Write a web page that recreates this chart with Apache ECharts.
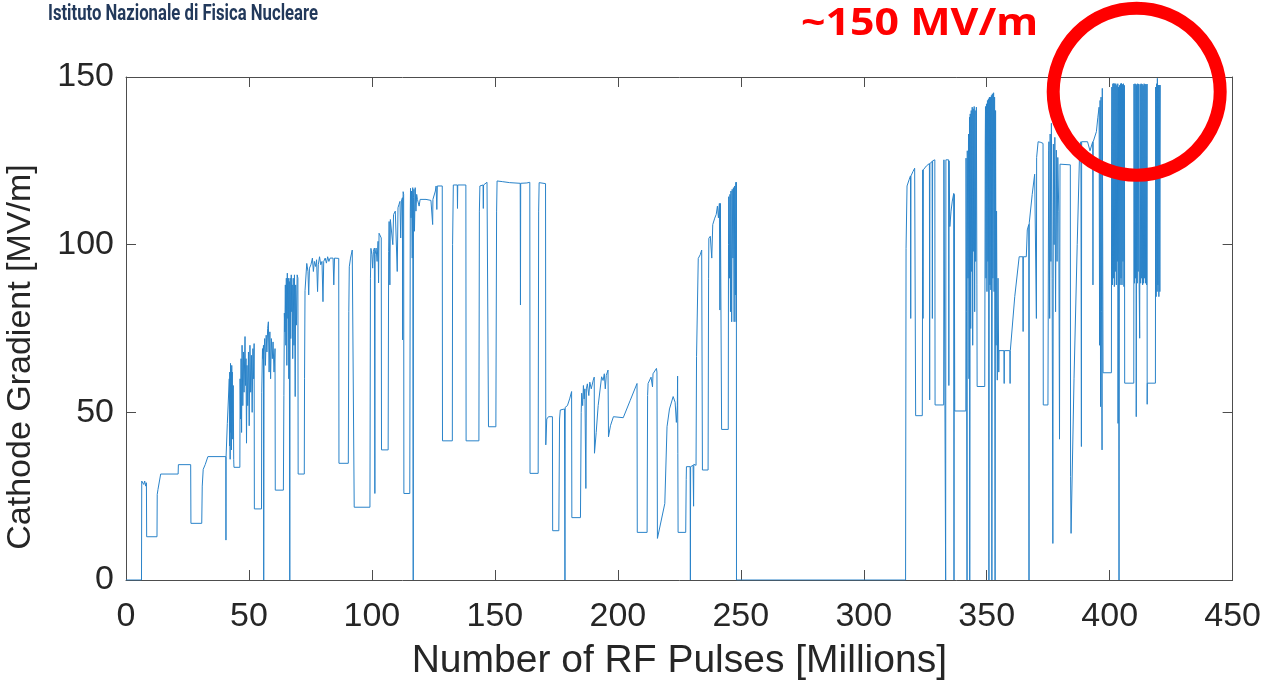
<!DOCTYPE html>
<html><head><meta charset="utf-8">
<script src="https://cdn.jsdelivr.net/npm/echarts@6/dist/echarts.min.js"></script>
<style>html,body{margin:0;padding:0;background:#fff;}#chart{width:1264px;height:689px;}</style>
</head><body><div id="chart"></div>
<script>
// [pulses (millions), cathode gradient (MV/m)]
const rampA = [[0,0],[6.3,0],[6.4,29.5],[6.8,30],[7.2,28.5],[7.6,29.5],[8.0,28],[8.3,29],[8.4,12.9],[12.6,12.9],[12.7,25.5],[13.0,27],[13.4,26.5],[14.1,31.6],[21.2,31.6],[21.3,34.4],[26.3,34.4],[26.4,16.9],[30.8,16.9],[31.0,28],[31.4,33],[32.2,34.4],[33.3,36.8],[40.6,36.8],[40.65,11.9],[40.7,36.8],[41.2,46.7],[41.9,46.7]];
const rampB = [[42.0,60],[42.1,40],[42.2,62],[42.35,36],[42.5,64.6],[42.6,44],[42.75,63],[42.9,38.8],[43.0,64],[43.1,50],[43.2,62],[43.4,42],[43.6,58],[43.8,36],[43.9,33.6],[46.3,33.6],[46.4,60],[46.6,48],[46.8,66],[47.0,44],[47.2,70],[47.5,52],[47.8,68],[48.0,56],[48.4,72.6],[48.6,58],[48.8,66],[49.0,40.8],[49.2,64],[49.5,52],[49.8,68],[50.1,46],[50.4,70],[50.7,56],[51.0,67],[51.3,50],[51.6,69],[51.9,60],[52.1,70.5],[52.2,21.2],[55.1,21.2],[55.2,56],[55.5,69],[55.7,66],[55.9,70],[56.0,0],[56.15,68],[56.4,72],[56.7,64],[57.0,73],[57.3,68],[57.6,75],[57.9,77],[58.2,62],[58.5,74],[58.8,60],[59.1,72],[59.5,66],[59.8,71],[60.2,62],[60.6,69],[60.7,26.8],[64.0,26.8],[64.2,55],[64.4,79.6],[64.6,74],[64.8,88],[65.0,70],[65.2,90],[65.4,64],[65.6,91.5],[65.8,78],[66.0,90],[66.2,60],[66.4,89],[66.6,0],[66.75,90],[67.0,72],[67.2,91],[67.4,80],[67.6,88],[67.8,66],[68.0,90],[68.3,70],[68.5,91],[68.8,54.7],[69.0,88],[69.3,76],[69.6,91],[69.9,90],[70.0,31.6],[72.5,31.6]];
const rampC = [[72.6,60],[72.8,86.3],[73.5,94.4],[74.0,92],[74.3,85],[74.6,93],[75.2,94],[75.8,96],[76.2,92],[76.6,95],[77.1,93.5],[77.5,95.5],[77.9,86],[78.2,94],[78.7,96.4],[79.2,94],[79.7,95],[80.1,83],[80.4,95],[81.0,96],[81.5,94.5],[82.0,96.4],[82.5,95],[83.0,96],[83.6,95.5],[84.2,96],[84.5,88],[84.8,96],[85.6,95.9],[86.5,95.9],[86.6,34.8],[90.4,34.8],[90.6,80],[90.8,93.4],[91.3,96],[92.0,98.4],[92.7,98.4],[92.8,21.7],[99.2,21.7],[99.4,90],[99.6,98.9],[100.0,97],[100.3,93],[100.6,98],[101.0,99],[101.2,25.8],[101.3,97],[101.7,99],[102.1,95],[102.5,101],[102.7,88.6],[102.9,103.4],[103.8,102],[103.9,38.8],[106.6,38.8],[106.8,98],[107.0,106.9],[107.3,88],[107.5,107.5],[108.0,108],[108.5,100],[108.8,109],[109.5,110],[110.0,110.4],[110.3,92],[110.6,111],[111.0,112],[111.4,112.9],[111.7,102],[112.0,113],[112.4,114],[112.5,71.6],[112.6,110],[112.7,115.8],[112.9,115],[113.0,25.8],[115.4,25.8],[115.6,110],[115.7,116.8],[115.9,108],[116.1,116],[116.4,96],[116.6,117],[116.8,0],[116.9,114],[117.1,116.5],[117.3,104],[117.6,117],[117.9,110],[118.2,115],[118.5,113.5],[118.8,113.5],[119.2,111.5],[119.6,113.5],[122.0,113.5],[124.0,113.2],[124.6,113.5],[124.7,106],[124.8,113.5],[125.6,113.5],[125.8,116],[126.1,117.5],[126.4,110.5],[126.6,117.5],[128.6,117.5],[128.7,41.5],[132.7,41.5]];
const rampD = [[132.8,100],[133.1,117.8],[134.7,117.8],[134.8,110.8],[134.9,117.8],[138.2,117.8],[138.3,41.5],[143.5,41.5],[143.7,110],[143.9,117.5],[145.2,117.8],[145.3,110.8],[145.4,117.8],[146.8,118.6],[147.3,118.2],[147.4,45.7],[150.4,45.7],[150.7,110],[150.9,119],[153,118.8],[156,118.5],[160.3,118.3],[160.4,82],[160.5,118.3],[163,118.4],[164.2,118.6],[164.3,31.8],[167.6,31.8],[167.8,110],[168.0,118.5],[170.6,118.2],[170.7,40.3],[171.1,48],[171.8,48.7],[173.4,48.7],[173.5,14.7],[176.0,14.7],[176.3,48],[176.6,50.7],[178.3,51],[178.5,0],[178.6,51.5],[179.5,52],[180.4,54],[181.2,56.2],[181.3,18.6],[184.8,18.6],[185.1,50],[185.3,55.7],[185.7,52],[186.0,58],[186.3,54],[186.6,57],[187.0,27.3],[187.2,57],[187.6,58.5],[188.2,55],[188.6,59],[189.2,57],[190.0,59.6],[190.4,60.5],[190.5,37.8],[191.2,44],[192.0,52],[193.4,60.6],[194.0,59.5],[194.5,61.5],[194.9,57],[195.3,61],[196.0,62.6],[196.1,62.6],[196.2,42.7],[197.0,46],[198.2,48.7],[202.2,48.4],[205,53.5],[207.8,58.6],[207.9,14.2],[211.9,14.2],[212.1,55],[212.3,58.6],[213.5,60.5],[214.1,57.6],[214.3,61.5],[215.7,63.1],[215.9,62],[216.1,12.4],[219.1,22.8],[220.0,45.7],[221.0,51],[222.5,54.7],[223.3,53],[223.8,47],[224.2,52],[224.3,60.8],[224.4,37.8],[224.5,14.2],[227.6,14.2],[227.8,30],[227.9,33.8],[229.4,33.8],[229.5,0],[229.6,33.8],[230.6,34.2],[230.8,22],[230.9,34.5],[231.8,34.2],[232.0,66.6],[232.7,95.9],[233.5,97],[234.1,98.4],[234.3,98.4],[234.4,32.8],[236.7,32.8],[236.9,90],[237.0,101.9],[237.6,102.5],[238.2,96],[238.6,106],[239.4,107.9],[240.0,109],[240.5,111.5],[240.9,108],[241.3,112.3],[241.5,80.5],[241.7,112.3],[242.1,112],[242.2,44.9],[244.9,44.9],[245.0,100],[245.1,114.3],[245.4,90],[245.6,115],[245.8,80],[246.0,116],[246.3,77],[246.5,116.5],[246.8,96],[247.0,117],[247.3,77],[247.5,117.5],[247.8,85],[248.0,118.6],[248.1,77],[248.2,118.6],[248.25,0]];
const idle = [[248.3,0],[317.0,0]];
const rampE = [[317.1,0],[317.2,98.9],[317.6,117.5],[318.5,119.5],[319.0,120.5],[319.1,78],[319.2,120.5],[320.0,121.8],[320.7,122.8],[321.0,122.8],[321.1,49],[323.8,49],[324.0,122.3],[324.1,78],[324.2,122.3],[325.5,123.5],[326.7,124.2],[326.8,53.7],[326.9,124.2],[327.8,124.8],[327.9,78],[328.0,125],[328.6,125.3],[328.9,125.3],[329.0,52.2],[332.5,52.2],[332.6,125.3],[333.2,125.3],[333.3,0],[333.4,125.3],[334.5,125.3],[334.6,58],[334.7,125],[335.0,105.4],[335.5,110],[336.0,113],[336.6,115.3],[336.7,0],[336.8,115],[337.0,50.4],[341.5,50.4],[341.6,125.8],[341.8,80],[342.0,0],[342.1,128],[342.4,90],[342.6,133],[342.8,60],[343.0,138],[343.1,0],[343.3,139],[343.5,75],[343.7,140],[343.9,92],[344.1,141],[344.3,70],[344.5,140.5],[344.7,98],[344.9,141.2],[345.1,80],[345.3,140],[345.5,95],[345.8,141],[346.0,88],[346.1,57.7],[349.2,57.7],[349.4,130],[349.5,141.2],[349.7,90],[349.9,142],[350.1,86],[350.3,143],[350.5,95],[350.7,143.5],[350.9,0],[351.1,144],[351.3,88],[351.5,144],[351.7,86.5],[351.9,144.5],[352.1,0],[352.3,145],[352.5,90],[352.8,145.3],[353.0,86],[353.2,144],[353.4,0],[353.6,140],[353.8,70],[354.0,110],[354.3,59.6],[354.6,90],[354.9,62],[355.0,68.4],[357.0,68.4],[357.1,58.6],[357.2,68.4],[359.4,68.4],[359.5,58.6],[359.6,68.4],[360.0,68.4],[361.4,84.5],[363.2,96.4],[364.7,96.4],[364.8,74.1],[364.9,96.4],[366.1,96.4],[366.5,104.4],[367.1,106],[367.2,0],[367.3,106.5],[368.5,115],[369.5,121],[370.2,78],[370.3,126],[370.9,130.7],[372.0,130.5],[372.9,130.2],[373.0,52.2],[374.9,52.2],[375.2,128],[375.3,130.7],[375.6,78],[375.8,133],[376.1,95],[376.3,136.2],[376.6,90],[376.9,10.9],[377.1,130],[377.4,100],[377.7,132],[378.0,80],[378.3,128.2],[378.6,95],[378.9,126],[379.3,110],[379.6,42],[379.8,124],[380.3,123.8],[384.0,123.8],[384.1,30.8],[384.3,13.9],[385.5,60],[386.8,100],[387.8,128.5],[388.3,130.7],[388.5,39.8],[388.6,130.7],[391,130.7],[392,128],[393.1,130.7],[393.2,88],[393.3,130.7],[394.6,133.7],[395.2,138],[395.7,141],[395.9,70],[396.1,143],[396.3,51.7],[396.5,144],[396.7,80],[396.9,38.8],[397.0,146.6],[397.2,146.6],[397.3,61.8],[400.7,61.8]];
const rampF = [[400.8,130],[400.9,147],[401.1,88],[401.3,148],[401.5,90],[401.7,148.1],[401.9,87.5],[402.1,148],[402.3,92],[402.5,148],[402.7,88],[402.9,147.5],[403.1,95],[403.3,148],[403.4,46.7],[403.6,147],[403.8,0],[404.0,147.5],[404.2,88],[404.4,148],[404.6,90],[404.8,148.1],[405.0,88],[405.2,147.8],[405.4,95],[405.6,148],[405.8,87.5],[406.0,147.5],[406.1,58.7],[409.8,58.7],[409.9,147.9],[410.1,88.5],[410.3,148],[410.5,90],[410.7,147.9],[410.8,48.7],[411.0,147.5],[411.2,88.5],[411.4,148],[411.6,92],[411.8,147.9],[412.0,88],[412.2,72.1],[412.4,147.8],[412.6,88.5],[412.8,148],[413.0,90],[413.2,147.9],[413.4,88],[413.6,147.5],[413.8,88.5],[414.0,148],[414.2,90],[414.4,147.9],[414.6,88.5],[414.8,147.8],[415.0,88],[415.2,147.9],[415.25,52.4],[415.3,58.7],[418.6,58.7],[418.7,147],[418.9,84.5],[419.1,148],[419.3,86],[419.4,149.6],[419.6,88],[419.8,147.6],[420.0,84.5],[420.2,147.6],[420.4,86],[420.6,147.6],[420.7,147.6]];

const xMin = 0, xMax = 450, xStep = 50;
const yMin = 0, yMax = 150, yStep = 50;
const xTitle = 'Number of RF Pulses [Millions]';
const yTitle = 'Cathode Gradient [MV/m]';
const headerText = 'Istituto Nazionale di Fisica Nucleare';
const noteText = '~150 MV/m';

const series = [].concat(rampA, rampB, rampC, rampD, idle, rampE, rampF);

function fitScale(str, font, target) {
  const c = document.createElement('canvas').getContext('2d');
  c.font = font;
  return target / c.measureText(str).width;
}
const headerScale = fitScale(headerText, 'bold 22px Roboto', 270);
const noteScale = fitScale(noteText, 'bold 37px "Noto Sans"', 237);

const axisColor = '#4d4d4d';
const labelColor = '#262626';
const boxAxis = (pos, isX) => ({
  type: 'value', position: pos, min: isX ? xMin : yMin, max: isX ? xMax : yMax,
  interval: isX ? xStep : yStep,
  axisLine: { show: true, onZero: false, lineStyle: { color: axisColor, width: 1 } },
  axisTick: { show: true, inside: true, length: 10, lineStyle: { color: axisColor } },
  axisLabel: { show: false }, splitLine: { show: false }
});

const chart = echarts.init(document.getElementById('chart'), null, { renderer: 'canvas' });
chart.setOption({
  animation: false,
  backgroundColor: '#ffffff',
  grid: { left: 126, right: 31, top: 77, bottom: 109 },
  xAxis: [{
    type: 'value', position: 'bottom', min: xMin, max: xMax, interval: xStep,
    name: xTitle, nameLocation: 'middle', nameGap: 62,
    nameTextStyle: { fontSize: 39, color: labelColor, fontFamily: 'Liberation Sans' },
    axisLine: { show: true, onZero: false, lineStyle: { color: axisColor, width: 1 } },
    axisTick: { show: true, inside: true, length: 10, lineStyle: { color: axisColor } },
    axisLabel: { fontSize: 34, color: labelColor, fontFamily: 'Liberation Sans', margin: 20 },
    splitLine: { show: false }
  }, boxAxis('top', true)],
  yAxis: [{
    type: 'value', position: 'left', min: yMin, max: yMax, interval: yStep,
    axisLine: { show: true, onZero: false, lineStyle: { color: axisColor, width: 1 } },
    axisTick: { show: true, inside: true, length: 10, lineStyle: { color: axisColor } },
    axisLabel: { fontSize: 34, color: labelColor, fontFamily: 'Liberation Sans', margin: 12 },
    splitLine: { show: false }
  }, boxAxis('right', false)],
  series: [{
    type: 'line', data: series, showSymbol: false, symbol: 'none',
    lineStyle: { color: '#2a83c9', width: 1 }, z: 3
  }],
  graphic: [
    { type: 'text', x: 21, y: 357, rotation: Math.PI / 2,
      style: { text: yTitle, fontSize: 34, fontFamily: 'Liberation Sans', fill: labelColor,
               align: 'center', verticalAlign: 'middle', textAlign: 'center', textVerticalAlign: 'middle' } },
    { type: 'text', x: 48, y: 14, scaleX: headerScale,
      style: { text: headerText, fontSize: 22, fontWeight: 'bold', fontFamily: 'Roboto', fill: '#22395b',
               align: 'left', verticalAlign: 'middle', textAlign: 'left', textVerticalAlign: 'middle' } },
    { type: 'text', x: 801, y: 24, scaleX: noteScale,
      style: { text: noteText, fontSize: 37, fontWeight: 'bold', fontFamily: 'Noto Sans', fill: '#ff0000',
               align: 'left', verticalAlign: 'middle', textAlign: 'left', textVerticalAlign: 'middle' } },
    { type: 'circle', z: 100, shape: { cx: 1136.7, cy: 91.7, r: 83.5 },
      style: { fill: 'none', stroke: '#ff0000', lineWidth: 13 } }
  ]
});
</script>
</body></html>
